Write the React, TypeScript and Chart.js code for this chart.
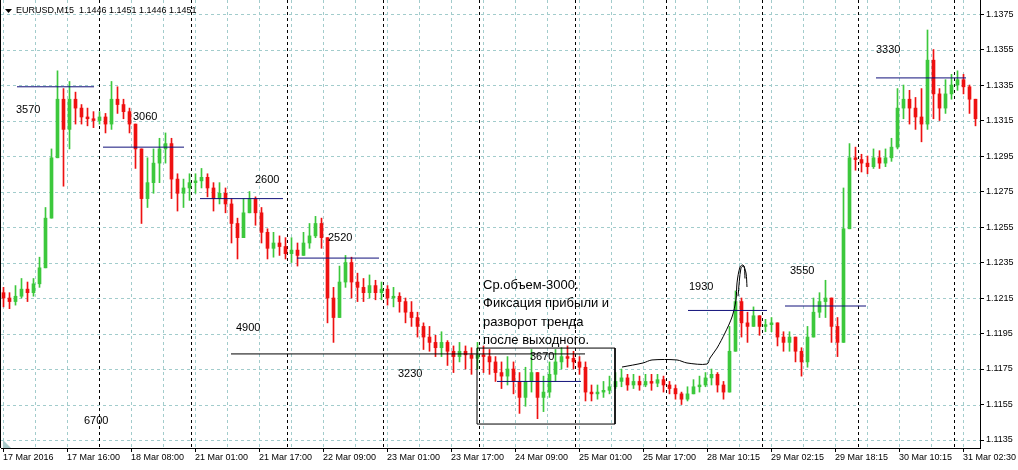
import React, { useEffect, useRef } from "react";
import { Chart, registerables } from "chart.js";

Chart.register(...registerables);

// ---------- DATA ----------
// Candles (1.5 h aggregation of the M15 picture), closes / highs / lows in price units
const closes = [
  1.1215, 1.1213, 1.1216, 1.1220, 1.1218, 1.1223, 1.1232, 1.1260, 1.1294, 1.1327,
  1.1310, 1.1327, 1.1322, 1.1317, 1.1316, 1.1315, 1.1317, 1.1313, 1.1327, 1.1324,
  1.1320, 1.1313, 1.1299, 1.1271, 1.1280, 1.1291, 1.1299, 1.1302, 1.1282, 1.1274,
  1.1277, 1.1280, 1.1281, 1.1283, 1.1277, 1.1271, 1.1274, 1.1268, 1.1257, 1.1249,
  1.1263, 1.1271, 1.1263, 1.1252, 1.1243, 1.1246, 1.1244, 1.1240, 1.1242, 1.1239,
  1.1246, 1.1250, 1.1257, 1.1249, 1.1215, 1.1204, 1.1224, 1.1235, 1.1224, 1.1221,
  1.1218, 1.1222, 1.1218, 1.1220, 1.1215, 1.1216, 1.1213, 1.1207, 1.1204, 1.1199,
  1.1193, 1.1190, 1.1187, 1.1190, 1.1185, 1.1182, 1.1185, 1.1183, 1.1181, 1.1183,
  1.1182, 1.1179, 1.1173, 1.1171, 1.1175, 1.1168, 1.1159, 1.1168, 1.1173, 1.1159,
  1.1162, 1.1172, 1.1179, 1.1182, 1.1181, 1.1179, 1.1176, 1.1162, 1.1161, 1.1162,
  1.1163, 1.1165, 1.1168, 1.1170, 1.1166, 1.1168, 1.1166, 1.1168, 1.1167, 1.1169,
  1.1166, 1.1164, 1.1161, 1.1158, 1.1161, 1.1165, 1.1166, 1.1170, 1.1172, 1.1166,
  1.1162, 1.1185, 1.1213, 1.1201, 1.1199, 1.1205, 1.1199, 1.1200, 1.1201, 1.1193,
  1.1190, 1.1193, 1.1185, 1.1179, 1.1193, 1.1207, 1.1213, 1.1215, 1.1199, 1.1190,
  1.1254, 1.1294, 1.1293, 1.1291, 1.1289, 1.1294, 1.1291, 1.1294, 1.1300, 1.1322,
  1.1327, 1.1322, 1.1317, 1.1313, 1.1349, 1.1330, 1.1322, 1.1330, 1.1335, 1.1338,
  1.1334, 1.1327, 1.1316,
];
const highs = [
  1.1221, 1.1218, 1.1222, 1.1226, 1.1224, 1.1226, 1.1238, 1.1266, 1.1299, 1.1343,
  1.1333, 1.1337, 1.1331, 1.1324, 1.1322, 1.1320, 1.1320, 1.1319, 1.1337, 1.1334,
  1.1327, 1.1322, 1.1313, 1.1299, 1.1294, 1.1299, 1.1305, 1.1308, 1.1305, 1.1285,
  1.1282, 1.1285, 1.1285, 1.1288, 1.1285, 1.1280, 1.1280, 1.1277, 1.1271, 1.1260,
  1.1271, 1.1275, 1.1272, 1.1266, 1.1254, 1.1252, 1.1250, 1.1249, 1.1249, 1.1246,
  1.1252, 1.1257, 1.1261, 1.1260, 1.1249, 1.1221, 1.1233, 1.1239, 1.1238, 1.1229,
  1.1226, 1.1228, 1.1225, 1.1224, 1.1222, 1.1221, 1.1218, 1.1215, 1.1213, 1.1207,
  1.1201, 1.1199, 1.1194, 1.1196, 1.1191, 1.1188, 1.1190, 1.1188, 1.1187, 1.1190,
  1.1188, 1.1186, 1.1182, 1.1179, 1.1182, 1.1179, 1.1173, 1.1176, 1.1186, 1.1173,
  1.1171, 1.1179, 1.1186, 1.1187, 1.1188, 1.1185, 1.1182, 1.1179, 1.1166, 1.1166,
  1.1168, 1.1171, 1.1173, 1.1175, 1.1172, 1.1172, 1.1171, 1.1172, 1.1172, 1.1172,
  1.1171, 1.1168, 1.1166, 1.1162, 1.1165, 1.1169, 1.1171, 1.1173, 1.1175, 1.1173,
  1.1168, 1.1199, 1.1219, 1.1215, 1.1207, 1.1210, 1.1204, 1.1203, 1.1204, 1.1201,
  1.1196, 1.1196, 1.1193, 1.1187, 1.1199, 1.1215, 1.1218, 1.1225, 1.1215, 1.1204,
  1.1277, 1.1302, 1.1300, 1.1296, 1.1295, 1.1299, 1.1298, 1.1299, 1.1305, 1.1333,
  1.1335, 1.1332, 1.1328, 1.1333, 1.1366, 1.1355, 1.1333, 1.1338, 1.1341, 1.1343,
  1.1341, 1.1335, 1.1327,
];
const lows = [
  1.1210, 1.1209, 1.1211, 1.1215, 1.1213, 1.1216, 1.1221, 1.1235, 1.1263, 1.1294,
  1.1278, 1.1299, 1.1313, 1.1313, 1.1312, 1.1311, 1.1313, 1.1308, 1.1310, 1.1319,
  1.1316, 1.1308, 1.1288, 1.1257, 1.1266, 1.1274, 1.1280, 1.1291, 1.1271, 1.1264,
  1.1266, 1.1270, 1.1274, 1.1277, 1.1272, 1.1264, 1.1268, 1.1263, 1.1246, 1.1237,
  1.1249, 1.1263, 1.1256, 1.1246, 1.1237, 1.1238, 1.1239, 1.1237, 1.1235, 1.1233,
  1.1240, 1.1243, 1.1249, 1.1243, 1.1201, 1.1190, 1.1204, 1.1221, 1.1215, 1.1213,
  1.1213, 1.1215, 1.1214, 1.1214, 1.1211, 1.1210, 1.1207, 1.1201, 1.1199, 1.1193,
  1.1186, 1.1185, 1.1182, 1.1182, 1.1177, 1.1173, 1.1179, 1.1175, 1.1172, 1.1175,
  1.1173, 1.1172, 1.1168, 1.1164, 1.1166, 1.1161, 1.1150, 1.1154, 1.1162, 1.1147,
  1.1151, 1.1159, 1.1168, 1.1175, 1.1176, 1.1175, 1.1172, 1.1157, 1.1157, 1.1158,
  1.1159, 1.1161, 1.1164, 1.1165, 1.1163, 1.1164, 1.1163, 1.1165, 1.1163, 1.1165,
  1.1162, 1.1161, 1.1158, 1.1155, 1.1157, 1.1161, 1.1162, 1.1165, 1.1166, 1.1162,
  1.1158, 1.1162, 1.1196, 1.1193, 1.1190, 1.1199, 1.1194, 1.1196, 1.1196, 1.1188,
  1.1185, 1.1185, 1.1179, 1.1171, 1.1176, 1.1193, 1.1204, 1.1204, 1.1190, 1.1182,
  1.1190, 1.1254, 1.1287, 1.1286, 1.1285, 1.1288, 1.1288, 1.1289, 1.1292, 1.1299,
  1.1316, 1.1313, 1.1310, 1.1303, 1.1310, 1.1316, 1.1315, 1.1319, 1.1327, 1.1332,
  1.1330, 1.1319, 1.1312,
];
const FIRST_OPEN = 1.1218;
const CANDLE_START = 2.5; // bar units (1 unit = one M15 bar)
const CANDLE_STEP = 6;

// Axis ticks
const xTickValues = [2, 66, 130, 194, 258, 322, 386, 450, 514, 578, 642, 706, 770, 834, 898, 962];
const xTickLabels = [
  "17 Mar 2016", "17 Mar 16:00", "18 Mar 08:00", "21 Mar 01:00", "21 Mar 17:00",
  "22 Mar 09:00", "23 Mar 01:00", "23 Mar 17:00", "24 Mar 09:00", "25 Mar 01:00",
  "25 Mar 17:00", "28 Mar 10:15", "29 Mar 02:15", "29 Mar 18:15", "30 Mar 10:15",
  "31 Mar 02:30",
];
const yTickValues = [
  1.1135, 1.1155, 1.1175, 1.1195, 1.1215, 1.1235, 1.1255, 1.1275, 1.1295, 1.1315,
  1.1335, 1.1355, 1.1375,
];
const daySeparators = [98, 190, 286, 382, 478, 574, 665, 761, 857, 953];

// Volume levels (blue segments)
const levelStart = [16, 102, 199, 296, 496, 687, 784, 875];
const levelEnd = [93, 183, 282, 378, 580, 766, 865, 965];
const levelPrice = [1.1334, 1.13, 1.1271, 1.12375, 1.1168, 1.1208, 1.12105, 1.1339];

// Black support line and the box
const supportX = [230, 584];
const supportPrice = 1.11835;
const boxX = [476, 614];
const boxPrice = [1.11868, 1.1144];

// Hand-drawn projection curve
const curveX = [621, 642, 651, 676, 686, 706, 709, 716, 724, 731, 735, 736, 739, 742, 745, 746];
const curveP = [
  1.11761, 1.11784, 1.11801, 1.11801, 1.11784, 1.11778, 1.11812, 1.11868, 1.11953,
  1.12043, 1.12139, 1.12235, 1.12325, 1.12336, 1.12291, 1.12212,
];
const curve2X = [737, 740, 743, 744];
const curve2P = [1.1216, 1.1232, 1.1233, 1.1226];

// Volume notes
const noteText = ["3570", "3060", "2600", "2520", "4900", "6700", "3230", "3670", "1930", "3550", "3330"];
const noteX = [15, 132, 254, 327, 235, 83, 397, 529, 688, 789, 875];
const noteP = [1.1321, 1.1317, 1.12815, 1.1249, 1.1198, 1.1146, 1.1172, 1.1182, 1.1221, 1.123, 1.1355];

const commentLines = ["Ср.объем-3000.", "Фиксация прибыли и", "разворот тренда", "после выходного."];
const commentX = 482;
const commentP = [1.1222, 1.1212, 1.1201, 1.1191];

const TITLE = "EURUSD,M15  1.1446 1.1451 1.1446 1.1451";

// ---------- STYLE ----------
const FONT = "'Liberation Sans', Arial, sans-serif";
const UP = "#3cc83c";
const DOWN = "#ee1111";
const GRID = "#a2cccc";
const LEVEL = "#10107a";

export default function App() {
  const ref = useRef<HTMLCanvasElement>(null);

  useEffect(() => {
    document.body.style.margin = "0";
    const opens = closes.map((_, i) => (i === 0 ? FIRST_OPEN : closes[i - 1]));
    const xs = closes.map((_, i) => CANDLE_START + CANDLE_STEP * i);
    const colors = closes.map((c, i) => (c >= opens[i] ? UP : DOWN));

    const wickData = xs.map((x, i) => ({
      x,
      y: [Math.min(lows[i], opens[i], closes[i]), Math.max(highs[i], opens[i], closes[i])],
    }));
    const bodyData = xs.map((x, i) => ({ x, y: [opens[i], closes[i]] }));

    const lineDs = (data: any[], color: string, extra: any = {}) => ({
      type: "line" as const,
      data,
      borderColor: color,
      borderWidth: 1,
      pointRadius: 0,
      pointHoverRadius: 0,
      fill: false,
      tension: 0,
      order: 0,
      ...extra,
    });

    const datasets: any[] = [];
    levelPrice.forEach((p, i) => {
      datasets.push(lineDs([{ x: levelStart[i], y: p }, { x: levelEnd[i], y: p }], LEVEL));
    });
    datasets.push(
      lineDs([{ x: supportX[0], y: supportPrice }, { x: supportX[1], y: supportPrice }], "#000")
    );
    datasets.push(
      lineDs(
        [
          { x: boxX[0], y: boxPrice[0] },
          { x: boxX[1], y: boxPrice[0] },
          { x: boxX[1], y: boxPrice[1] },
          { x: boxX[0], y: boxPrice[1] },
          { x: boxX[0], y: boxPrice[0] },
        ],
        "#000"
      )
    );
    datasets.push(
      lineDs(
        curveX.map((x, i) => ({ x, y: curveP[i] })),
        "#000",
        { tension: 0.3 }
      )
    );
    datasets.push(
      lineDs(
        curve2X.map((x, i) => ({ x, y: curve2P[i] })),
        "#000",
        { tension: 0.3 }
      )
    );
    datasets.push({
      type: "bar",
      data: bodyData,
      backgroundColor: colors,
      borderWidth: 0,
      barThickness: 3,
      minBarLength: 1,
      grouped: false,
      order: 1,
    });
    datasets.push({
      type: "bar",
      data: wickData,
      backgroundColor: colors,
      borderWidth: 0,
      barThickness: 1,
      minBarLength: 1,
      grouped: false,
      order: 2,
    });

    const decor = {
      id: "decor",
      beforeDraw(chart: any) {
        const ctx = chart.ctx;
        ctx.save();
        ctx.fillStyle = "#fff";
        ctx.fillRect(0, 0, chart.width, chart.height);
        ctx.restore();
      },
      beforeDatasetsDraw(chart: any) {
        const { ctx, chartArea: a, scales } = chart;
        const sx = scales.x;
        const sy = scales.y;
        ctx.save();
        ctx.lineWidth = 1;
        ctx.strokeStyle = GRID;
        ctx.setLineDash([3, 3]);
        for (let g = 2; g < 979; g += 32) {
          const px = Math.round(sx.getPixelForValue(g)) + 0.5;
          ctx.beginPath();
          ctx.moveTo(px, a.top);
          ctx.lineTo(px, a.bottom);
          ctx.stroke();
        }
        yTickValues.forEach((v) => {
          const py = Math.round(sy.getPixelForValue(v)) + 0.5;
          ctx.beginPath();
          ctx.moveTo(a.left, py);
          ctx.lineTo(a.right, py);
          ctx.stroke();
        });
        ctx.strokeStyle = "#000";
        daySeparators.forEach((d) => {
          const px = Math.round(sx.getPixelForValue(d)) + 0.5;
          ctx.beginPath();
          ctx.moveTo(px, a.top);
          ctx.lineTo(px, a.bottom);
          ctx.stroke();
        });
        ctx.setLineDash([]);
        // small scroll marker in bottom-left corner
        ctx.fillStyle = "#a8caca";
        ctx.beginPath();
        ctx.moveTo(a.left + 2, a.bottom - 8);
        ctx.lineTo(a.left + 2, a.bottom);
        ctx.lineTo(a.left + 10, a.bottom);
        ctx.closePath();
        ctx.fill();
        ctx.restore();
      },
      afterDatasetsDraw(chart: any) {
        const { ctx, chartArea: a, scales } = chart;
        const sx = scales.x;
        const sy = scales.y;
        ctx.save();
        ctx.fillStyle = "#000";
        ctx.textAlign = "left";
        ctx.textBaseline = "middle";
        ctx.font = `11px ${FONT}`;
        noteText.forEach((t, i) => {
          ctx.fillText(t, sx.getPixelForValue(noteX[i]), sy.getPixelForValue(noteP[i]));
        });
        ctx.font = `13px ${FONT}`;
        commentLines.forEach((t, i) => {
          ctx.fillText(t, sx.getPixelForValue(commentX), sy.getPixelForValue(commentP[i]));
        });
        // left frame
        ctx.strokeStyle = "#000";
        ctx.lineWidth = 1;
        ctx.beginPath();
        ctx.moveTo(a.left - 0.5, a.top);
        ctx.lineTo(a.left - 0.5, a.bottom);
        ctx.stroke();
        // title
        ctx.font = `9px ${FONT}`;
        ctx.fillStyle = "#000";
        ctx.beginPath();
        ctx.moveTo(5, 9);
        ctx.lineTo(12, 9);
        ctx.lineTo(8.5, 13);
        ctx.closePath();
        ctx.fill();
        ctx.fillText(TITLE, 16, 11);
        ctx.restore();
      },
    };

    const chart = new Chart(ref.current!, {
      type: "bar",
      data: { datasets },
      options: {
        responsive: false,
        animation: false,
        devicePixelRatio: 1,
        events: [],
        layout: { padding: { left: 1, top: 0, right: 0, bottom: 0 } },
        plugins: { legend: { display: false }, tooltip: { enabled: false } },
        scales: {
          x: {
            type: "linear",
            position: "bottom",
            min: 0,
            max: 979,
            offset: false,
            afterBuildTicks: (s: any) => {
              s.ticks = xTickValues.map((v) => ({ value: v }));
            },
            afterFit: (s: any) => {
              s.height = 22;
              s.paddingLeft = 0;
              s.paddingRight = 0;
            },
            ticks: {
              callback: (_v: any, i: number) => xTickLabels[i],
              autoSkip: false,
              maxRotation: 0,
              minRotation: 0,
              align: "start",
              padding: 0,
              color: "#000",
              font: { family: FONT, size: 9 },
            },
            grid: {
              drawOnChartArea: false,
              drawTicks: true,
              tickLength: 4,
              tickColor: "#000",
              offset: false,
            },
            border: { display: true, color: "#000" },
          },
          y: {
            type: "linear",
            position: "right",
            min: 1.11305,
            max: 1.13829,
            afterBuildTicks: (s: any) => {
              s.ticks = yTickValues.map((v) => ({ value: v }));
            },
            afterFit: (s: any) => {
              s.width = 38;
              s.paddingTop = 0;
              s.paddingBottom = 0;
            },
            ticks: {
              callback: (v: any) => Number(v).toFixed(4),
              padding: 2,
              color: "#000",
              font: { family: FONT, size: 9 },
            },
            grid: {
              drawOnChartArea: false,
              drawTicks: true,
              tickLength: 4,
              tickColor: "#000",
            },
            border: { display: true, color: "#000" },
          },
        },
      },
      plugins: [decor],
    } as any);

    return () => chart.destroy();
  }, []);

  return (
    <div style={{ width: 1018, height: 470 }}>
      <canvas ref={ref} width={1018} height={470} style={{ display: "block" }} />
    </div>
  );
}
